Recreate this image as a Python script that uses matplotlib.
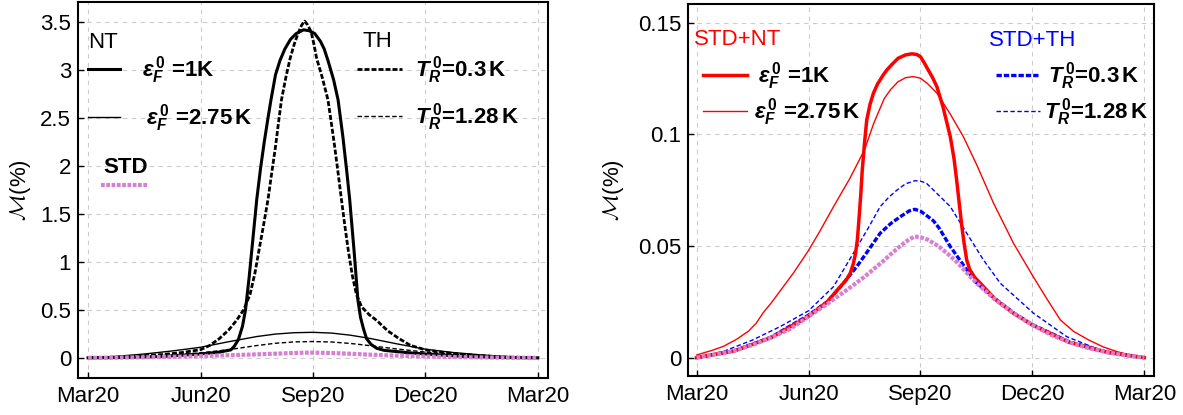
import matplotlib
matplotlib.use('Agg')
import matplotlib.pyplot as plt
from matplotlib.legend import Legend
from matplotlib.ticker import FuncFormatter

plt.rcParams['font.family'] = ['Liberation Sans', 'DejaVu Sans']
plt.rcParams['mathtext.fontset'] = 'custom'
plt.rcParams['mathtext.rm'] = 'Liberation Sans:bold'
plt.rcParams['mathtext.it'] = 'Liberation Sans:italic:bold'
plt.rcParams['mathtext.bf'] = 'Liberation Sans:bold'

# ---------------- data (months since Mar20, values in %) ----------------
month_ticks = [0, 3, 6, 9, 12]
month_labels = ['Mar20', 'Jun20', 'Sep20', 'Dec20', 'Mar20']

# STD (shared by both panels)
std_m = [0, 0.5, 1, 1.5, 2, 2.5, 3, 3.5, 4, 4.5, 5, 5.25, 5.5, 5.7, 5.85, 6.0, 6.2, 6.5,
         6.75, 7, 7.25, 7.5, 8, 8.5, 9, 9.5, 10, 10.5, 11, 11.5, 12]
std_v = [0, 0.0015, 0.003, 0.0057, 0.009, 0.0128, 0.0184, 0.024, 0.03, 0.0362, 0.0432,
         0.047, 0.0505, 0.053, 0.0542, 0.0539, 0.0528, 0.0497, 0.0462, 0.0424, 0.0378,
         0.0334, 0.026, 0.0198, 0.0146, 0.0102, 0.0068, 0.0043, 0.0024, 0.001, 0]

# Left panel: NT eps_F^0 = 1 K
nt1_m = [0, 1, 2, 3, 3.5, 3.81, 3.9, 4.01, 4.12, 4.2, 4.3, 4.4, 4.5, 4.6, 4.7, 4.8,
         4.88, 5.0, 5.12, 5.25, 5.4, 5.55, 5.75, 5.9, 6.05, 6.2, 6.3, 6.4, 6.55, 6.67,
         6.8, 6.9, 6.98, 7.1, 7.2, 7.27, 7.35, 7.43, 7.55, 7.7, 7.9, 8.5, 9, 10, 11, 12]
nt1_v = [0, 0.004, 0.015, 0.04, 0.06, 0.083, 0.12, 0.19, 0.33, 0.5, 0.85, 1.25, 1.65,
         1.97, 2.25, 2.5, 2.69, 2.95, 3.1, 3.22, 3.32, 3.38, 3.42, 3.41, 3.38, 3.3, 3.22,
         3.1, 2.9, 2.69, 2.3, 1.95, 1.65, 1.1, 0.6, 0.42, 0.3, 0.2, 0.14, 0.1, 0.078,
         0.055, 0.04, 0.015, 0.004, 0]
# Left panel: NT eps_F^0 = 2.75 K
nt2_m = [0, 0.75, 1.5, 2.25, 3, 3.75, 4.5, 5.0, 5.5, 6, 6.5, 7.0, 7.5, 8.25, 9, 9.75,
         10.5, 11.25, 12]
nt2_v = [0, 0.015, 0.04, 0.072, 0.11, 0.168, 0.222, 0.248, 0.262, 0.266, 0.258, 0.236,
         0.204, 0.145, 0.09, 0.055, 0.03, 0.012, 0]
# Left panel: TH T_R^0 = 0.3 K
th1_m = [0, 1, 2, 2.5, 3, 3.25, 3.5, 3.75, 3.96, 4.15, 4.32, 4.45, 4.55, 4.68, 4.8, 4.9,
         5.0, 5.08, 5.16, 5.28, 5.39, 5.5, 5.6, 5.7, 5.78, 5.86, 5.95, 6.02, 6.1, 6.25,
         6.4, 6.49, 6.58, 6.67, 6.76, 6.85, 6.95, 7.05, 7.16, 7.3, 7.5, 7.7, 8.0, 8.3,
         8.6, 9.0, 9.5, 10, 11, 12]
th1_v = [0, 0.01, 0.035, 0.055, 0.085, 0.13, 0.2, 0.29, 0.39, 0.5, 0.66, 0.88, 1.1,
         1.38, 1.65, 1.93, 2.2, 2.45, 2.69, 2.93, 3.12, 3.27, 3.38, 3.47, 3.51, 3.47,
         3.4, 3.28, 3.12, 2.92, 2.69, 2.45, 2.2, 1.93, 1.65, 1.38, 1.1, 0.86, 0.66, 0.53,
         0.45, 0.39, 0.28, 0.2, 0.13, 0.083, 0.055, 0.035, 0.01, 0]
# Left panel: TH T_R^0 = 1.28 K
th2_m = [0, 0.75, 1.5, 2.25, 3, 3.75, 4.5, 5.0, 5.5, 6, 6.5, 7.0, 7.5, 8.25, 9, 9.75,
         10.5, 11.25, 12]
th2_v = [0, 0.006, 0.015, 0.03, 0.052, 0.085, 0.128, 0.152, 0.166, 0.17, 0.165, 0.15,
         0.128, 0.092, 0.06, 0.036, 0.02, 0.008, 0]

# Right panel: STD+NT eps_F^0 = 1 K
snt1_m = [0, 1, 2, 3, 3.5, 3.85, 4.0, 4.12, 4.2, 4.26, 4.31, 4.35, 4.4, 4.44, 4.5, 4.56,
          4.65, 4.74, 4.85, 5.0, 5.1, 5.25, 5.4, 5.6, 5.77, 5.9, 6.0, 6.1, 6.2, 6.32,
          6.44, 6.6, 6.8, 6.9, 6.97, 7.04, 7.11, 7.18, 7.24, 7.32, 7.45, 7.6, 8, 8.5, 9,
          10, 11, 12]
snt1_v = [0, 0.003, 0.009, 0.0185, 0.025, 0.0318, 0.0345, 0.0379, 0.042, 0.0467, 0.053,
          0.0616, 0.073, 0.084, 0.096, 0.1064, 0.1135, 0.1184, 0.1225, 0.1265, 0.1288,
          0.1315, 0.134, 0.1355, 0.136, 0.1357, 0.1347, 0.132, 0.129, 0.1255, 0.1213,
          0.1125, 0.0989, 0.089, 0.0795, 0.069, 0.0586, 0.05, 0.0437, 0.0395, 0.036,
          0.0334, 0.0262, 0.0198, 0.0146, 0.0068, 0.0024, 0]
# Right panel: STD+NT eps_F^0 = 2.75 K
snt2_m = [0, 0.2, 0.4, 0.71, 1.07, 1.4, 1.6, 1.78, 2.0, 2.2, 2.4, 2.6, 2.8, 3, 3.3, 3.67,
          4.1, 4.5, 4.75, 5.03, 5.2, 5.4, 5.6, 5.8, 6.0, 6.2, 6.44, 6.8, 7.15, 7.5, 7.96,
          8.5, 9.02, 9.4, 9.75, 10.1, 10.51, 10.9, 11.27, 11.6, 12]
snt2_v = [0.0012, 0.0022, 0.0032, 0.005, 0.0082, 0.012, 0.0155, 0.02, 0.0245, 0.029,
          0.0335, 0.038, 0.043, 0.048, 0.0565, 0.0676, 0.08, 0.093, 0.105, 0.116, 0.12,
          0.1235, 0.1253, 0.1258, 0.1251, 0.1225, 0.1184, 0.109, 0.0989, 0.0866, 0.0691,
          0.051, 0.0363, 0.026, 0.0169, 0.0118, 0.0079, 0.0048, 0.0027, 0.0012, 0.0003]
# Right panel: STD+TH T_R^0 = 0.3 K
sth1_m = [0, 1, 2, 3, 3.5, 3.86, 4.29, 4.6, 4.92, 5.2, 5.46, 5.7, 5.85, 6.0, 6.15, 6.35,
          6.5, 6.8, 7.0, 7.24, 7.5, 8, 8.5, 9, 10, 11, 12]
sth1_v = [0, 0.003, 0.0092, 0.019, 0.025, 0.0318, 0.0407, 0.048, 0.0557, 0.06, 0.0631,
          0.0657, 0.0664, 0.0656, 0.0638, 0.0612, 0.058, 0.0497, 0.045, 0.0393, 0.0336,
          0.0264, 0.02, 0.0148, 0.007, 0.0025, 0]
# Right panel: STD+TH T_R^0 = 1.28 K
sth2_m = [0, 0.75, 1.5, 2.25, 3, 3.67, 4.2, 4.6, 4.92, 5.15, 5.37, 5.6, 5.85, 6.0, 6.15,
          6.35, 6.8, 7.24, 7.69, 8.14, 9.03, 9.92, 10.82, 12]
sth2_v = [0, 0.003, 0.0079, 0.014, 0.021, 0.0318, 0.0467, 0.058, 0.0676, 0.0718, 0.075,
          0.0778, 0.0792, 0.079, 0.0782, 0.075, 0.0676, 0.0557, 0.0437, 0.0333, 0.0199,
          0.0094, 0.0034, 0]

# ---------------- styling ----------------
PINK = '#D77FD3'
RED = '#FF0000'
BLUE = '#0000FF'
LEG_FS = 16
TICK_FS = 16

fig = plt.figure(figsize=(11.83, 4.15), dpi=100)
axL = fig.add_axes([0.0659, 0.0892, 0.3973, 0.9060])
axR = fig.add_axes([0.5816, 0.0940, 0.3939, 0.8964])

fmt = FuncFormatter(lambda v, p: f'{v:g}')

for ax in (axL, axR):
    ax.set_xticks(month_ticks)
    ax.set_xticklabels(month_labels)
    ax.tick_params(direction='in', length=4, width=1, labelsize=TICK_FS,
                   top=False, right=False)
    ax.tick_params(axis='x', pad=6)
    ax.tick_params(axis='y', pad=5)
    ax.grid(True, color='#cccccc', linestyle=(0, (4, 4)), linewidth=0.8)
    ax.set_axisbelow(True)
    for s in ax.spines.values():
        s.set_linewidth(1.5)
    ax.yaxis.set_major_formatter(fmt)

# ---- left panel ----
axL.set_xlim(-0.27, 12.27)
axL.set_ylim(-0.21, 3.71)
axL.set_yticks([0, 0.5, 1, 1.5, 2, 2.5, 3, 3.5])
l_nt1, = axL.plot(nt1_m, nt1_v, color='black', lw=2.2)
l_nt2, = axL.plot(nt2_m, nt2_v, color='black', lw=1.0)
l_th1, = axL.plot(th1_m, th1_v, color='black', lw=2.0, linestyle=(0, (1.8, 0.72)))
l_th2, = axL.plot(th2_m, th2_v, color='black', lw=1.0, linestyle=(0, (3.2, 1.8)))
l_std, = axL.plot(std_m, std_v, color=PINK, lw=3.0, linestyle=(0, (0.9, 0.37)))

# ---- right panel ----
axR.set_xlim(-0.23, 12.26)
axR.set_ylim(-0.0082, 0.1583)
axR.set_yticks([0, 0.05, 0.1, 0.15])
r_nt2, = axR.plot(snt2_m, snt2_v, color=RED, lw=1.0)
r_th2, = axR.plot(sth2_m, sth2_v, color=BLUE, lw=1.0, linestyle=(0, (3.2, 1.8)))
r_th1, = axR.plot(sth1_m, sth1_v, color=BLUE, lw=2.4, linestyle=(0, (1.6, 0.6)))
r_nt1, = axR.plot(snt1_m, snt1_v, color=RED, lw=2.5)
r_std, = axR.plot(std_m, std_v, color=PINK, lw=3.0, linestyle=(0, (0.9, 0.37)))

for ax, xl in ((axL, -0.0955), (axR, -0.133)):
    ax.set_ylabel(r'$\mathcal{M}$(%)', fontsize=16, math_fontfamily='cm')
    ax.yaxis.set_label_coords(xl, 0.5)

lab_e1 = r'$\varepsilon_F^{\,0}$ =1K'
lab_e2 = r'$\varepsilon_F^{\,0}$ =2.75$\,$K'
lab_t1 = r'$T_R^{\,0}$=0.3$\,$K'
lab_t2 = r'$T_R^{\,0}$=1.28$\,$K'


def row(ax, handle, label, x, y, hl, tp):
    leg = Legend(ax, [handle], [label], loc='center left', bbox_to_anchor=(x, y),
                 bbox_transform=ax.transAxes, frameon=False, borderpad=0,
                 borderaxespad=0, handlelength=hl, handletextpad=tp,
                 prop={'weight': 'bold', 'size': LEG_FS})
    ax.add_artist(leg)
    return leg


# left legends
axL.text(0.0213, 0.892, 'NT', transform=axL.transAxes, fontsize=16, va='center', ha='left')
row(axL, l_nt1, lab_e1, 0.0213, 0.819, 1.44, 0.98)
row(axL, l_nt2, lab_e2, 0.0213, 0.691, 1.44, 1.18)
axL.text(0.606, 0.894, 'TH', transform=axL.transAxes, fontsize=16, va='center', ha='left')
row(axL, l_th1, lab_t1, 0.594, 0.819, 2.03, 0.59)
row(axL, l_th2, lab_t2, 0.594, 0.694, 2.03, 0.59)
axL.text(0.053, 0.560, 'STD', transform=axL.transAxes, fontsize=16, fontweight='bold',
         va='center', ha='left')
row(axL, l_std, '', 0.049, 0.507, 2.12, 0.0)

# right legends
axR.text(0.0135, 0.905, 'STD+NT', transform=axR.transAxes, fontsize=16, color=RED,
         va='center', ha='left')
row(axR, r_nt1, lab_e1, 0.0315, 0.806, 2.0, 0.5)
row(axR, r_nt2, lab_e2, 0.0315, 0.710, 2.0, 0.33)
axR.text(0.646, 0.903, 'STD+TH', transform=axR.transAxes, fontsize=16, color=BLUE,
         va='center', ha='left')
row(axR, r_th1, lab_t1, 0.660, 0.806, 2.0, 0.36)
row(axR, r_th2, lab_t2, 0.660, 0.710, 2.0, 0.17)

fig.savefig('out.png', dpi=100)
